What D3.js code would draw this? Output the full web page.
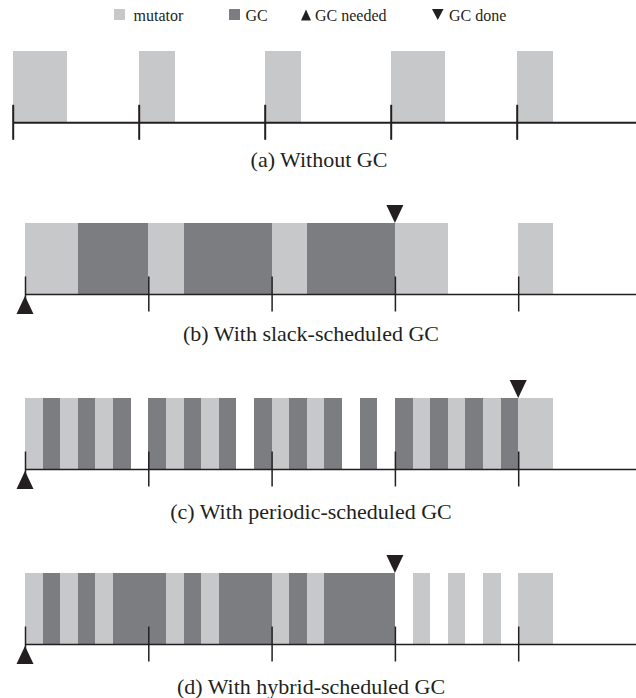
<!DOCTYPE html>
<html>
<head>
<meta charset="utf-8">
<script src="https://cdn.jsdelivr.net/npm/d3@7"></script>
<style>
  html, body { margin: 0; padding: 0; background: #fff; }
  svg { display: block; }
  text { font-family: "Liberation Serif", "Times New Roman", serif; fill: #231f20; }
</style>
</head>
<body>
<svg id="chart" width="636" height="698"></svg>
<script>
// Time is measured in slots; one period between ticks = 7 slots.
const periodTicks = [0, 7, 14, 21, 28];

// (a) mutator only
const mutatorA = [[0, 3], [7, 9], [14, 16], [21, 24], [28, 30]];

// (b) slack-scheduled GC
const mutatorB = [[0, 3], [7, 9], [14, 16], [21, 24], [28, 30]];
const gcB = [[3, 7], [9, 14], [16, 21]];

// (c) periodic-scheduled GC
const mutatorC = [[0, 1], [2, 3], [4, 5], [8, 9], [10, 11], [14, 15], [16, 17],
                  [22, 23], [24, 25], [26, 27], [28, 30]];
const gcC = [[1, 2], [3, 4], [5, 6], [7, 8], [9, 10], [11, 12], [13, 14], [15, 16],
             [17, 18], [19, 20], [21, 22], [23, 24], [25, 26], [27, 28]];

// (d) hybrid-scheduled GC
const mutatorD = [[0, 1], [2, 3], [4, 5], [8, 9], [10, 11], [14, 15], [16, 17],
                  [22, 23], [24, 25], [26, 27], [28, 30]];
const gcD = [[1, 2], [3, 4], [5, 8], [9, 10], [11, 14], [15, 16], [17, 21]];

const gcNeededAt = [null, 0, 0, 0];
const gcDoneAt = [null, 21, 28, 21];

const captions = ["(a) Without GC", "(b) With slack-scheduled GC",
                  "(c) With periodic-scheduled GC", "(d) With hybrid-scheduled GC"];

const legendLabels = ["mutator", "GC", "GC needed", "GC done"];

const COLOR_MUT = "#c7c8ca";
const COLOR_GC = "#7c7d81";
const INK = "#231f20";
const W = 636;

const svg = d3.select("#chart");

// Panel layout
const panels = [
  { mut: mutatorA, gc: [], axisY: 122.3, r0: 12.7, r1: 516.7, stroke: 2, caption: { x: 319, y: 167 } },
  { mut: mutatorB, gc: gcB, axisY: 294, r0: 25, r1: 518.2, stroke: 1.5, caption: { x: 311, y: 341 } },
  { mut: mutatorC, gc: gcC, axisY: 469, r0: 25, r1: 518.2, stroke: 1.5, caption: { x: 311, y: 519 } },
  { mut: mutatorD, gc: gcD, axisY: 644, r0: 25, r1: 518.2, stroke: 1.5, caption: { x: 311, y: 694 } }
];
const barH = 71;
const tickHalf = 17.5;

panels.forEach((p, i) => {
  const x = d3.scaleLinear().domain([0, 28]).range([p.r0, p.r1]);
  const g = svg.append("g").attr("class", "panel panel-" + i);

  const y = d3.scaleLinear().domain([0, 1]).range([p.axisY, p.axisY - barH]);

  const segs = p.mut.map(d => ({ s: d[0], e: d[1], c: COLOR_MUT }))
    .concat(p.gc.map(d => ({ s: d[0], e: d[1], c: COLOR_GC })));

  g.selectAll("rect.seg").data(segs).join("rect")
    .attr("class", "seg")
    .attr("x", d => x(d.s))
    .attr("width", d => x(d.e) - x(d.s))
    .attr("y", y(1))
    .attr("height", y(0) - y(1))
    .attr("fill", d => d.c)
    .attr("shape-rendering", "crispEdges");

  // Timeline axis running to the right edge
  const xAxisScale = x.copy().domain([0, x.invert(W)]).range([x(0), W]);
  const axis = d3.axisBottom(xAxisScale)
    .tickValues(periodTicks)
    .tickSizeOuter(0)
    .tickFormat("");
  const ag = g.append("g")
    .attr("transform", `translate(0,${p.axisY})`)
    .call(axis);
  ag.select(".domain").attr("stroke", INK).attr("stroke-width", p.stroke);
  ag.selectAll(".tick line")
    .attr("y1", -tickHalf).attr("y2", tickHalf)
    .attr("stroke", INK).attr("stroke-width", p.stroke);

  // Markers
  if (gcNeededAt[i] !== null) {
    const cx = x(gcNeededAt[i]);
    g.append("path")
      .attr("d", `M${cx},${p.axisY + 2} L${cx + 8.5},${p.axisY + 20} L${cx - 8.5},${p.axisY + 20} Z`)
      .attr("fill", INK);
  }
  if (gcDoneAt[i] !== null) {
    const cx = x(gcDoneAt[i]);
    const top = y(1);
    g.append("path")
      .attr("d", `M${cx - 8.5},${top - 18} L${cx + 8.5},${top - 18} L${cx},${top} Z`)
      .attr("fill", INK);
  }

  g.append("text")
    .attr("x", p.caption.x)
    .attr("y", p.caption.y)
    .attr("text-anchor", "middle")
    .attr("font-size", 22)
    .text(captions[i]);
});

// Legend
const legend = svg.append("g").attr("class", "legend");
const legendItems = [
  { kind: "rect", color: COLOR_MUT, mx: 114, tx: 133.5 },
  { kind: "rect", color: COLOR_GC, mx: 229, tx: 245.5 },
  { kind: "up", mx: 301.5, tx: 315 },
  { kind: "down", mx: 432, tx: 449 }
];
legendItems.forEach((it, k) => {
  if (it.kind === "rect") {
    legend.append("rect").attr("x", it.mx).attr("y", 9).attr("width", 11).attr("height", 11)
      .attr("fill", it.color);
  } else if (it.kind === "up") {
    legend.append("path")
      .attr("d", `M${it.mx + 4.5},9.5 L${it.mx + 9.5},20.5 L${it.mx - 0.5},20.5 Z`)
      .attr("fill", INK);
  } else {
    legend.append("path")
      .attr("d", `M${it.mx},9 L${it.mx + 11.5},9 L${it.mx + 5.75},20 Z`)
      .attr("fill", INK);
  }
  legend.append("text")
    .attr("x", it.tx).attr("y", 20.5)
    .attr("font-size", 16)
    .text(legendLabels[k]);
});
</script>
</body>
</html>
